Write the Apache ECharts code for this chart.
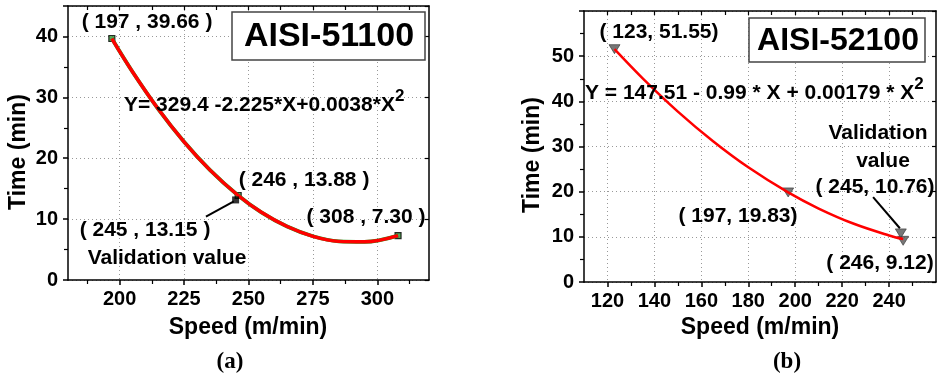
<!DOCTYPE html>
<html>
<head>
<meta charset="utf-8">
<script src="https://cdn.jsdelivr.net/npm/echarts@6/dist/echarts.min.js"></script>
<style>
html,body{margin:0;padding:0;background:#fff;}
#chart{width:937px;height:379px;}
</style>
</head>
<body>
<div id="chart"></div>
<script>
// ---------- Data: panel (a) AISI-51100 ----------
const speed51 = [197, 246, 308];
const time51 = [39.66, 13.88, 7.30];
const valid51 = [245, 13.15];
const curveX51 = [197, 205, 215, 225, 235, 246, 255, 265, 275, 285, 295, 308];
const curveY51 = [39.66, 34.21, 28.08, 22.70, 18.09, 13.88, 11.12, 8.78, 7.18, 6.35, 6.27, 7.30];
const xTicks51 = [200, 225, 250, 275, 300];
const xMinor51 = [187.5, 212.5, 237.5, 262.5, 287.5, 312.5];
const arrow51 = [[233.5, 10.4], [244.3, 12.9]];

// ---------- Data: panel (b) AISI-52100 ----------
const speed52 = [123, 197, 246];
const time52 = [51.55, 19.83, 9.12];
const valid52 = [245, 10.76];
const curveX52 = [123, 135, 150, 165, 180, 197, 210, 225, 240, 246];
const curveY52 = [51.55, 45.09, 37.73, 31.17, 25.40, 19.83, 16.27, 12.89, 10.31, 9.5];
const xTicks52 = [120, 140, 160, 180, 200, 220, 240];
const xMinor52 = [130, 150, 170, 190, 210, 230, 250];
const arrow52 = [[233.2, 18.8], [244.6, 11.9]];

const F = '"Liberation Sans", Arial, sans-serif';
const pairs = (xs, ys) => xs.map((x, i) => [x, ys[i]]);

function xAxesFor(gi, min, max, majors, minors) {
  const common = { type: 'value', gridIndex: gi, min: min, max: max };
  return [
    Object.assign({}, common, {
      position: 'bottom',
      axisLine: { show: true, lineStyle: { color: '#000', width: 1.5 } },
      axisTick: { show: true, length: 5, inside: false, customValues: majors, lineStyle: { color: '#000', width: 1.5 } },
      axisLabel: { show: true, customValues: majors, margin: 9, color: '#000', fontFamily: F, fontWeight: 'bold', fontSize: 20 },
      splitLine: { show: true, lineStyle: { color: '#999', type: [1, 3], width: 1 } }
    }),
    Object.assign({}, common, {
      position: 'bottom',
      axisLine: { show: false },
      axisTick: { show: true, length: 4, inside: false, customValues: minors, lineStyle: { color: '#000', width: 1.2 } },
      axisLabel: { show: false },
      splitLine: { show: false }
    }),
    Object.assign({}, common, {
      position: 'top',
      axisLine: { show: true, lineStyle: { color: '#000', width: 1.5 } },
      axisTick: { show: true, length: 4, inside: true, customValues: majors.concat(minors), lineStyle: { color: '#000', width: 1.2 } },
      axisLabel: { show: false },
      splitLine: { show: false }
    })
  ];
}

function yAxesFor(gi, max) {
  const common = { type: 'value', gridIndex: gi, min: 0, max: max, interval: 10 };
  return [
    Object.assign({}, common, {
      position: 'left',
      axisLine: { show: true, lineStyle: { color: '#000', width: 1.5 } },
      axisTick: { show: true, length: 5, inside: false, lineStyle: { color: '#000', width: 1.5 } },
      minorTick: { show: true, splitNumber: 2, length: 4, lineStyle: { color: '#000', width: 1.2 } },
      axisLabel: { show: true, showMaxLabel: false, margin: 10, color: '#000', fontFamily: F, fontWeight: 'bold', fontSize: 20 },
      splitLine: { show: true, lineStyle: { color: '#999', type: [1, 3], width: 1 } }
    }),
    Object.assign({}, common, {
      position: 'right',
      axisLine: { show: true, lineStyle: { color: '#000', width: 1.5 } },
      axisTick: { show: true, length: 4, inside: true, lineStyle: { color: '#000', width: 1.2 } },
      minorTick: { show: false },
      axisLabel: { show: false },
      splitLine: { show: false }
    })
  ];
}

const xAxes = xAxesFor(0, 180, 320, xTicks51, xMinor51).concat(xAxesFor(1, 110, 260, xTicks52, xMinor52));
const yAxes = yAxesFor(0, 45).concat(yAxesFor(1, 60));

function txt(x, y, text, size, opts) {
  opts = opts || {};
  return {
    type: 'text', x: x, y: y, rotation: opts.rotation || 0, z: 100,
    style: {
      text: text,
      font: 'bold ' + size + 'px ' + (opts.family || F),
      fill: '#000',
      textAlign: opts.align || 'center', align: opts.align || 'center',
      textVerticalAlign: 'middle', verticalAlign: 'middle',
      rich: opts.rich
    }
  };
}

const supRich = {
  m: { fontFamily: F, fontWeight: 'bold', fontSize: 21, lineHeight: 34, color: '#000' },
  s: { fontFamily: F, fontWeight: 'bold', fontSize: 17, lineHeight: 17, color: '#000', verticalAlign: 'top' }
};

const option = {
  animation: false,
  backgroundColor: '#fff',
  grid: [
    { left: 68, top: 6, width: 361, height: 274, outerBoundsMode: 'none' },
    { left: 584, top: 11, width: 352, height: 271, outerBoundsMode: 'none' }
  ],
  xAxis: xAxes,
  yAxis: yAxes,
  series: [
    // panel (a)
    {
      type: 'scatter', xAxisIndex: 0, yAxisIndex: 0, data: pairs(speed51, time51),
      symbol: 'rect', symbolSize: 6, itemStyle: { color: '#2e8b2e', borderColor: '#000', borderWidth: 1.2 }, z: 2
    },
    {
      type: 'line', xAxisIndex: 0, yAxisIndex: 0, data: pairs(curveX51, curveY51),
      smooth: 0.35, showSymbol: false, lineStyle: { color: '#1f9a1f', width: 3.8 }, z: 3
    },
    {
      type: 'line', xAxisIndex: 0, yAxisIndex: 0, data: pairs(curveX51, curveY51),
      smooth: 0.35, showSymbol: false, lineStyle: { color: '#ff0000', width: 3.4 }, z: 4
    },
    {
      type: 'scatter', xAxisIndex: 0, yAxisIndex: 0, data: [valid51],
      symbol: 'rect', symbolSize: 7, itemStyle: { color: '#000' }, z: 5,
      markLine: {
        silent: true, symbol: ['none', 'arrow'], symbolSize: [0, 11], label: { show: false },
        lineStyle: { color: '#000', width: 2, type: 'solid' },
        data: [[{ coord: arrow51[0] }, { coord: arrow51[1] }]]
      }
    },
    // panel (b)
    {
      type: 'scatter', xAxisIndex: 3, yAxisIndex: 2, data: pairs(speed52, time52).concat([valid52]),
      symbol: 'triangle', symbolRotate: 180, symbolSize: [11, 9],
      itemStyle: { color: '#555', borderColor: '#333', borderWidth: 0.8 }, z: 3,
      markLine: {
        silent: true, symbol: ['none', 'arrow'], symbolSize: [0, 14], label: { show: false },
        lineStyle: { color: '#000', width: 2, type: 'solid' },
        data: [[{ coord: arrow52[0] }, { coord: arrow52[1] }]]
      }
    },
    {
      type: 'line', xAxisIndex: 3, yAxisIndex: 2, data: pairs(curveX52, curveY52),
      smooth: 0.35, showSymbol: false, lineStyle: { color: '#ff0000', width: 2.5 }, z: 4
    }
  ],
  graphic: [
    // title boxes
    { type: 'rect', shape: { x: 232, y: 12, width: 193, height: 48 }, style: { fill: '#fff', stroke: '#444', lineWidth: 1.5 }, z: 90 },
    txt(329, 37, 'AISI-51100', 34),
    { type: 'rect', shape: { x: 749, y: 18, width: 176, height: 44 }, style: { fill: '#fff', stroke: '#444', lineWidth: 1.5 }, z: 90 },
    txt(838, 41, 'AISI-52100', 32),

    // panel (a) annotations
    txt(147, 22, '( 197 , 39.66 )', 21),
    txt(304, 180, '( 246 , 13.88 )', 21),
    txt(145, 230, '( 245 , 13.15 )', 21),
    txt(167, 258, 'Validation value', 21),
    txt(366, 217, '( 308 , 7.30 )', 21),
    txt(124, 105, '{m|Y= 329.4 -2.225*X+0.0038*X}{s|2}', 21, { align: 'left', rich: supRich }),

    // panel (b) annotations
    txt(659, 32, '( 123, 51.55)', 21),
    txt(585, 93, '{m|Y = 147.51 - 0.99 * X + 0.00179 * X}{s|2}', 21, { align: 'left', rich: supRich }),
    txt(878, 133, 'Validation', 21),
    txt(883, 161, 'value', 21),
    txt(875, 187, '( 245, 10.76)', 21),
    txt(738, 216, '( 197, 19.83)', 21),
    txt(880, 263, '( 246, 9.12)', 21),

    // axis titles
    txt(248, 328, 'Speed (m/min)', 23),
    txt(19, 152, 'Time (min)', 23, { rotation: Math.PI / 2 }),
    txt(760, 328, 'Speed (m/min)', 23),
    txt(533, 155, 'Time (min)', 23, { rotation: Math.PI / 2 }),

    // panel labels
    txt(230, 362, '(a)', 23, { family: '"Liberation Serif", "Times New Roman", serif' }),
    txt(787, 362, '(b)', 23, { family: '"Liberation Serif", "Times New Roman", serif' })
  ]
};

const chart = echarts.init(document.getElementById('chart'), null, { renderer: 'canvas' });
chart.setOption(option);
</script>
</body>
</html>
